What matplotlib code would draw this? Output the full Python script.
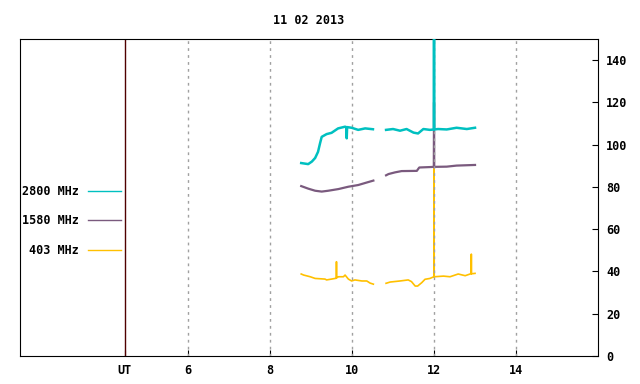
import numpy as np
import matplotlib
matplotlib.use('Agg')
import matplotlib.pyplot as plt

# time (UT hours) and flux values
t_2800_a = [8.76, 8.93, 9.02, 9.10, 9.17, 9.22, 9.26, 9.38, 9.50, 9.66, 9.83, 9.86, 9.87, 9.88, 9.99, 10.15, 10.32, 10.51]
v_2800_a = [91.3, 90.8, 92.0, 93.7, 96.6, 100.7, 103.7, 105.0, 105.6, 107.7, 108.5, 108.3, 103.0, 108.3, 108.0, 107.0, 107.7, 107.3]
t_2800_b = [10.83, 11.00, 11.17, 11.33, 11.50, 11.61, 11.74, 11.90, 11.995, 12.0, 12.005, 12.10, 12.31, 12.55, 12.80, 13.00]
v_2800_b = [107.0, 107.4, 106.6, 107.4, 105.7, 105.3, 107.4, 107.0, 107.2, 200.0, 107.2, 107.4, 107.2, 108.0, 107.4, 108.0]

t_1580_a = [8.76, 8.93, 9.10, 9.26, 9.42, 9.67, 9.91, 10.15, 10.36, 10.52]
v_1580_a = [80.4, 79.2, 78.2, 77.8, 78.2, 79.0, 80.1, 80.9, 82.1, 83.0]
t_1580_b = [10.83, 10.89, 11.05, 11.21, 11.58, 11.64, 11.90, 11.995, 12.0, 12.005, 12.31, 12.55, 13.00]
v_1580_b = [85.5, 86.1, 86.9, 87.5, 87.6, 89.2, 89.4, 89.5, 120.0, 89.5, 89.6, 90.1, 90.4]

t_403_a = [8.76, 8.82, 8.98, 9.10, 9.34, 9.38, 9.50, 9.615, 9.62, 9.625, 9.67, 9.79, 9.83, 9.91, 9.99, 10.07, 10.24, 10.36, 10.44, 10.52]
v_403_a = [38.8, 38.3, 37.5, 36.7, 36.4, 36.0, 36.4, 36.8, 44.6, 37.0, 37.5, 37.5, 38.3, 36.4, 35.5, 36.0, 35.5, 35.5, 34.5, 34.0]
t_403_b = [10.83, 10.93, 11.17, 11.37, 11.45, 11.54, 11.60, 11.70, 11.78, 11.90, 11.995, 12.0, 12.005, 12.23, 12.39, 12.59, 12.76, 12.88, 12.905, 12.91, 12.915, 13.00]
v_403_b = [34.4, 35.0, 35.5, 36.0, 35.2, 33.1, 33.1, 34.7, 36.3, 36.7, 37.5, 110.0, 37.5, 37.8, 37.5, 38.8, 38.0, 38.8, 38.9, 48.2, 38.9, 39.1]

labels = ['2800 MHz', '1580 MHz', '403 MHz']
colors = ['#00c0c0', '#7a5a7e', '#ffc000']
xtick_pos = [4.46, 6, 8, 10, 12, 14]
xtick_lab = ['UT', '6', '8', '10', '12', '14']

plt.rcParams['font.family'] = ['DejaVu Sans Mono']
plt.rcParams['font.weight'] = 'bold'
plt.rcParams['font.size'] = 8.5

fig = plt.figure(figsize=(6.4, 3.84), dpi=100)
ax = fig.add_axes([20 / 640, 28 / 384, 578 / 640, 317 / 384])

# draw low frequency first so higher ones sit on top
h403, = ax.plot(t_403_a, v_403_a, color=colors[2], lw=1.2)
ax.plot(t_403_b, v_403_b, color=colors[2], lw=1.2)
h1580, = ax.plot(t_1580_a, v_1580_a, color=colors[1], lw=1.6)
ax.plot(t_1580_b, v_1580_b, color=colors[1], lw=1.6)
h2800, = ax.plot(t_2800_a, v_2800_a, color=colors[0], lw=1.8, zorder=6)
ax.plot(t_2800_b, v_2800_b, color=colors[0], lw=1.8, zorder=6)

ax.axvline(xtick_pos[0], color='#500000', lw=1.0)

for x in xtick_pos[1:]:
    ax.axvline(x, color='#a0a0a0', lw=1.0, ls=(0, (2, 3)), zorder=5)

ax.set_xlim(1.9, 16.0)
ax.set_ylim(0, 150)

ax.set_xticks(xtick_pos)
ax.set_xticklabels(xtick_lab)
ax.tick_params(axis='x', direction='in', length=4, pad=6)
ax.yaxis.tick_right()
ax.set_yticks(np.arange(0, 141, 20))
ax.tick_params(axis='y', direction='in', length=4, pad=6)
for lab in ax.get_yticklabels():
    lab.set_horizontalalignment('left')

ax.set_title('11 02 2013', fontsize=8.5, fontweight='bold', pad=11)

leg = ax.legend([h2800, h1580, h403], labels, markerfirst=False, frameon=False,
                loc='upper left', bbox_to_anchor=(-0.005, 0.555), handlelength=2.8,
                labelspacing=1.41, handletextpad=0.8, borderaxespad=0)
for txt in leg.get_texts():
    txt.set_horizontalalignment('right')
for lh in leg.get_lines():
    lh.set_linewidth(1.0)

fig.savefig('out.png', dpi=100)
